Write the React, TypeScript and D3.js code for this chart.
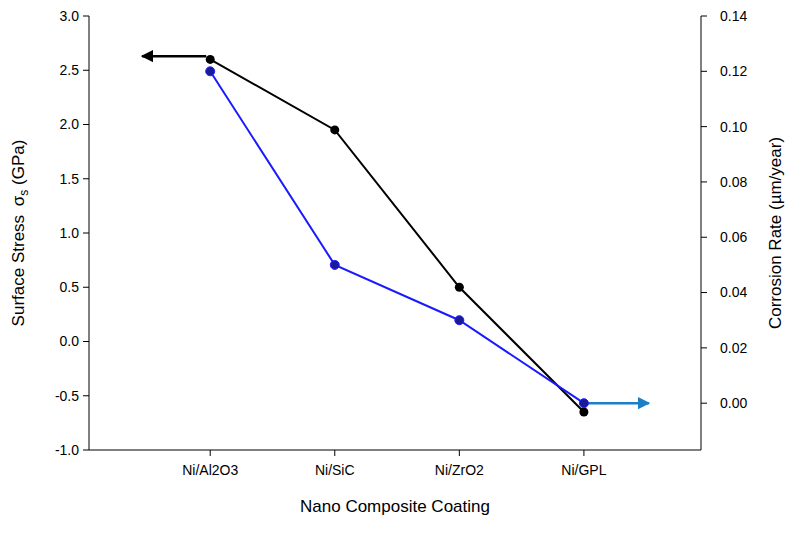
import React from "react";
import * as d3 from "d3";

const categories = ["Ni/Al2O3", "Ni/SiC", "Ni/ZrO2", "Ni/GPL"];
const surfaceStress = [2.6, 1.95, 0.5, -0.65];
const corrosionRate = [0.12, 0.05, 0.03, 0.0];
const leftTicks = [3.0, 2.5, 2.0, 1.5, 1.0, 0.5, 0.0, -0.5, -1.0];
const rightTicks = [0.14, 0.12, 0.1, 0.08, 0.06, 0.04, 0.02, 0.0];

const W = 794, H = 535;
const left = 89, right = 701, top = 16, bottom = 450;
const font = "Arial, 'Liberation Sans', sans-serif";

const App = () => {
  const x = d3.scaleLinear().domain([-0.973, 3.94]).range([left, right]);
  const yL = d3.scaleLinear().domain([-1, 3]).range([bottom, top]);
  const yR = d3.scaleLinear().domain([-0.01693, 0.14]).range([bottom, top]);
  const line = d3.line<[number, number]>();
  const blackPts = surfaceStress.map((v, i) => [x(i), yL(v)] as [number, number]);
  const bluePts = corrosionRate.map((v, i) => [x(i), yR(v)] as [number, number]);

  return (
    <svg width={W} height={H} style={{ position: "absolute", left: 0, top: 0, background: "#fff" }} fontFamily={font}>
      <defs>
        <marker id="ab" viewBox="0 0 10 10" refX="9" refY="5" markerWidth="5" markerHeight="5" orient="auto">
          <path d="M0,0L10,5L0,10z" fill="#000" />
        </marker>
        <marker id="au" viewBox="0 0 10 10" refX="9" refY="5" markerWidth="5" markerHeight="5" orient="auto">
          <path d="M0,0L10,5L0,10z" fill="#1a7fc4" />
        </marker>
      </defs>
      {/* axes */}
      <line x1={left} x2={left} y1={top} y2={bottom} stroke="#000" />
      <line x1={right} x2={right} y1={top} y2={bottom} stroke="#000" />
      <line x1={left} x2={right} y1={bottom} y2={bottom} stroke="#000" />
      {leftTicks.map((t) => (
        <g key={"l" + t}>
          <line x1={left - 6} x2={left} y1={yL(t)} y2={yL(t)} stroke="#000" />
          <text x={left - 10} y={yL(t)} dy="0.35em" textAnchor="end" fontSize={14}>{t.toFixed(1)}</text>
        </g>
      ))}
      {rightTicks.map((t) => (
        <g key={"r" + t}>
          <line x1={right} x2={right + 6} y1={yR(t)} y2={yR(t)} stroke="#000" />
          <text x={right + 19} y={yR(t)} dy="0.35em" textAnchor="start" fontSize={14}>{t.toFixed(2)}</text>
        </g>
      ))}
      {categories.map((c, i) => (
        <g key={c}>
          <line x1={x(i)} x2={x(i)} y1={bottom} y2={bottom + 6} stroke="#000" />
          <text x={x(i)} y={bottom + 25} textAnchor="middle" fontSize={14}>{c}</text>
        </g>
      ))}
      <text x={(left + right) / 2} y={bottom + 62} textAnchor="middle" fontSize={17}>Nano Composite Coating</text>
      <text transform={`translate(24,${(top + bottom) / 2}) rotate(-90)`} textAnchor="middle" fontSize={17}>
        Surface Stress <tspan dx="4">σ</tspan><tspan fontSize={12} dy="4">s</tspan><tspan dy="-4"> (GPa)</tspan>
      </text>
      <text transform={`translate(781,${(top + bottom) / 2}) rotate(-90)`} textAnchor="middle" fontSize={17}>
        Corrosion Rate (µm/year)
      </text>
      {/* arrows */}
      <line x1={x(0) - 4} x2={x(0) - 68} y1={yL(2.63)} y2={yL(2.63)} stroke="#000" strokeWidth={2.5} markerEnd="url(#ab)" />
      <line x1={x(3)} x2={x(3) + 65} y1={yR(0)} y2={yR(0)} stroke="#1a7fc4" strokeWidth={2.5} markerEnd="url(#au)" />
      {/* series */}
      <path d={line(blackPts) || ""} fill="none" stroke="#000" strokeWidth={2} />
      <path d={line(bluePts) || ""} fill="none" stroke="#1a1aff" strokeWidth={2} />
      {blackPts.map((p, i) => <circle key={"b" + i} cx={p[0]} cy={p[1]} r={4.5} fill="#000" />)}
      {bluePts.map((p, i) => <circle key={"u" + i} cx={p[0]} cy={p[1]} r={4.5} fill="#1a1a9a" stroke="#2020ff" />)}
    </svg>
  );
};

export default App;
